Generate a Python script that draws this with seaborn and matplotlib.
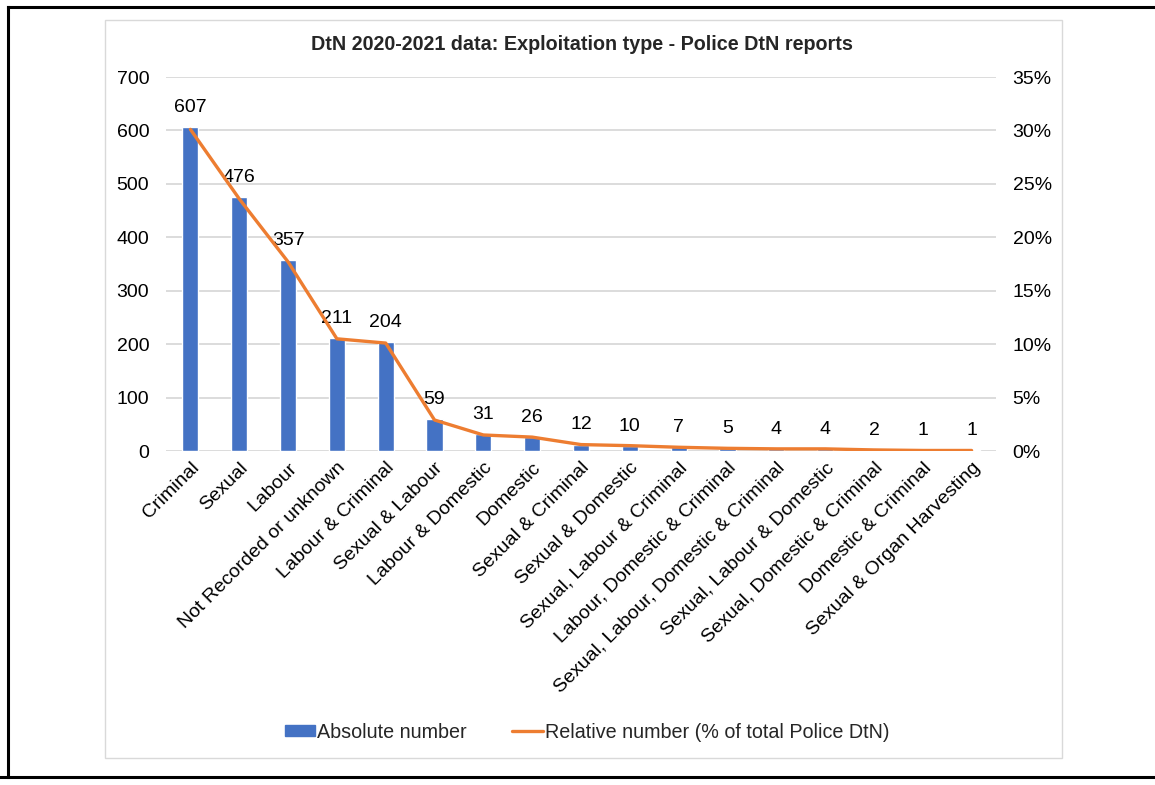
import matplotlib
matplotlib.use("Agg")
import matplotlib.pyplot as plt
import seaborn as sns
import pandas as pd
from matplotlib.lines import Line2D
from matplotlib.patches import Patch, Rectangle
from matplotlib.ticker import PercentFormatter

# Exploitation types recorded in Police Duty to Notify (DtN) reports, 2020-2021
categories = [
    "Criminal", "Sexual", "Labour", "Not Recorded or unknown", "Labour & Criminal",
    "Sexual & Labour", "Labour & Domestic", "Domestic", "Sexual & Criminal",
    "Sexual & Domestic", "Sexual, Labour & Criminal", "Labour, Domestic & Criminal",
    "Sexual, Labour, Domestic & Criminal", "Sexual, Labour & Domestic",
    "Sexual, Domestic & Criminal", "Domestic & Criminal", "Sexual & Organ Harvesting",
]
absolute_number = [607, 476, 357, 211, 204, 59, 31, 26, 12, 10, 7, 5, 4, 4, 2, 1, 1]
relative_pct = [30.1, 23.6, 17.7, 10.5, 10.1, 2.9, 1.5, 1.3, 0.6, 0.5,
                0.35, 0.25, 0.2, 0.2, 0.1, 0.05, 0.05]

left_ticks = [0, 100, 200, 300, 400, 500, 600, 700]
right_ticks = [0, 5, 10, 15, 20, 25, 30, 35]

BLUE = "#4472C4"
ORANGE = "#ED7D31"
GRID = "#D9D9D9"
FS = 14

sns.set_theme(style="white")
plt.rcParams["font.family"] = ["Liberation Sans", "DejaVu Sans"]

df = pd.DataFrame({"type": categories, "count": absolute_number, "pct": relative_pct})

W, H = 1155, 785
fig = plt.figure(figsize=(W / 100, H / 100), dpi=100)
fig.patch.set_facecolor("white")

ax = fig.add_axes([166 / W, 1 - 451 / H, (996 - 166) / W, (451 - 77) / H])
sns.barplot(data=df, x="type", y="count", color=BLUE, width=0.33,
            saturation=1, ax=ax, zorder=2)
ax.set_ylim(0, 700)
ax.set_yticks(left_ticks)
ax.set_xlim(-0.5, len(categories) - 0.5)
ax.set_xlabel("")
ax.set_ylabel("")
ax.grid(axis="y", color=GRID, linewidth=1.3, zorder=0)
ax.grid(axis="x", visible=False)
ax.set_axisbelow(True)
for s in ax.spines.values():
    s.set_visible(False)
ax.tick_params(axis="y", length=0, pad=12, labelsize=FS, labelcolor="black")
ax.tick_params(axis="x", length=0, pad=6, labelsize=FS, labelcolor="black")
ax.set_xticks(range(len(categories)))
ax.set_xticklabels(categories, rotation=45, ha="right", rotation_mode="anchor")

ax.bar_label(ax.containers[0], labels=[str(v) for v in absolute_number],
             padding=8, fontsize=FS, color="black")

ax2 = ax.twinx()
sns.lineplot(data=df, x="type", y="pct", sort=False, color=ORANGE,
             linewidth=2.4, ax=ax2)
ax2.set_ylim(0, 35)
ax2.set_yticks(right_ticks)
ax2.yaxis.set_major_formatter(PercentFormatter(decimals=0))
ax2.set_ylabel("")
ax2.set_xlabel("")
for s in ax2.spines.values():
    s.set_visible(False)
ax2.tick_params(axis="y", length=0, pad=12, labelsize=FS, labelcolor="black")
ax2.grid(False)

fig.text(582 / W, 1 - 45 / H,
         "DtN 2020-2021 data: Exploitation type - Police DtN reports",
         ha="center", va="center", fontsize=14.2, fontweight="bold")

handles = [
    Patch(facecolor=BLUE, edgecolor=BLUE),
    Line2D([0], [0], color=ORANGE, linewidth=2.4),
]
fig.legend(handles, ["Absolute number", "Relative number (% of total Police DtN)"],
           loc="center", bbox_to_anchor=(587 / W, 1 - 732 / H), ncol=2,
           frameon=False, fontsize=14.2, handlelength=1.55, handleheight=0.45,
           handletextpad=0.1, columnspacing=2.3)

# chart area border
fig.add_artist(Rectangle((105 / W, 1 - 758 / H), (1062 - 105) / W, (758 - 20) / H,
                         transform=fig.transFigure, fill=False,
                         edgecolor=GRID, linewidth=1))
# outer frame
for xs, ys in [((8 / W, 1.0), (1 - 7 / H, 1 - 7 / H)),
               ((0.0, 1.0), (1 - 777 / H, 1 - 777 / H)),
               ((8 / W, 8 / W), (1 - 7 / H, 1 - 777 / H))]:
    fig.add_artist(Line2D(xs, ys, transform=fig.transFigure, color="black",
                          linewidth=2.2, solid_capstyle="projecting"))

fig.savefig("out.png", dpi=100, facecolor="white")
